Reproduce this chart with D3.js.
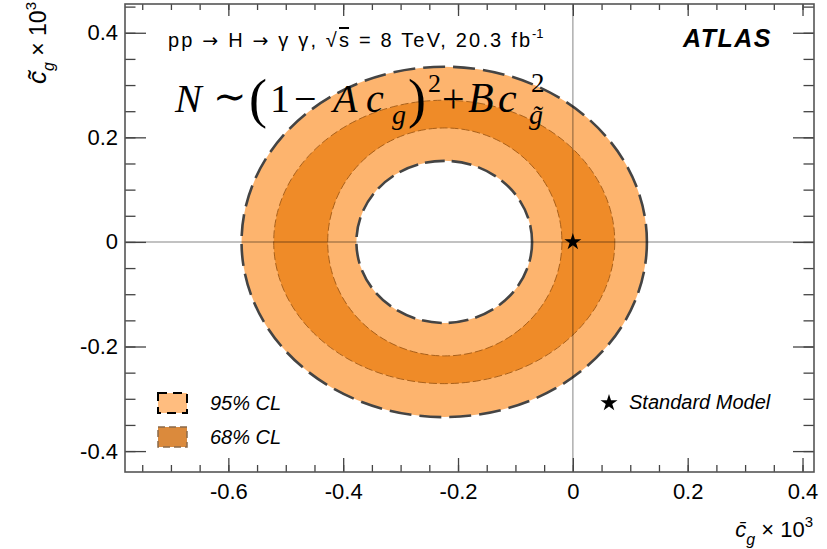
<!DOCTYPE html>
<html lang="en">
<head>
<meta charset="UTF-8" />
<title>ATLAS H to gamma gamma, CP-odd gluon coupling</title>
<script src="https://d3js.org/d3.v7.min.js"></script>
<style>
  body { margin: 0; background: #fff; }
  svg text { font-family: "Liberation Sans", Arial, sans-serif; fill: #000; }
</style>
</head>
<body>
<div id="chart"></div>
<script>
  // contour boundaries (ellipses), outer to inner, in units of 10^-3
  const contourNames = ["95% outer", "68% outer", "68% inner", "95% inner"]
  const contourCx = [-0.224, -0.224, -0.223, -0.224]
  const contourCy = [0, 0, 0, 0]
  const contourRx = [0.353, 0.297, 0.204, 0.153]
  const contourRy = [0.335, 0.271, 0.218, 0.155]
  const smPoint = [0, 0]
  const xTickValues = [-0.6, -0.4, -0.2, 0, 0.2, 0.4]
  const yTickValues = [-0.4, -0.2, 0, 0.2, 0.4]
  const legendLabels = ["95% CL", "68% CL"]

  const width = 827, height = 549
  const margin = { top: 4, right: 13, bottom: 77, left: 125 }

  const svg = d3.select("#chart").append("svg")
    .attr("width", width)
    .attr("height", height)

  const x = d3.scaleLinear().domain([-0.78, 0.42]).range([margin.left, width - margin.right])
  const y = d3.scaleLinear().domain([-0.44, 0.455]).range([height - margin.bottom, margin.top])

  const fills = ["#fdb46e", "#ef8b28", "#fdb46e", "#ffffff"]
  const strokes = ["#444", "#a9601a", "#a9601a", "#444"]
  const strokeW = [2.6, 1, 1, 2.6]
  const dashes = ["22,8", "8,3", "8,3", "20,7"]

  // rings
  svg.append("g").selectAll("ellipse")
    .data(contourNames)
    .enter()
    .append("ellipse")
    .attr("cx", (d, i) => x(contourCx[i]))
    .attr("cy", (d, i) => y(contourCy[i]))
    .attr("rx", (d, i) => x(contourRx[i]) - x(0))
    .attr("ry", (d, i) => y(0) - y(contourRy[i]))
    .attr("fill", (d, i) => fills[i])
    .attr("stroke", (d, i) => strokes[i])
    .attr("stroke-width", (d, i) => strokeW[i])
    .attr("stroke-dasharray", (d, i) => dashes[i])

  // reference lines through 0
  svg.append("line")
    .attr("x1", x(0)).attr("x2", x(0))
    .attr("y1", y.range()[0]).attr("y2", y.range()[1])
    .attr("stroke", "#000").attr("stroke-opacity", 0.32).attr("stroke-width", 1.5)
  svg.append("line")
    .attr("x1", x.range()[0]).attr("x2", x.range()[1])
    .attr("y1", y(0)).attr("y2", y(0))
    .attr("stroke", "#000").attr("stroke-opacity", 0.32).attr("stroke-width", 1.5)

  // SM point
  const star = d3.symbol(d3.symbolStar).size(90)
  svg.append("path")
    .attr("d", star())
    .attr("transform", `translate(${x(smPoint[0])},${y(smPoint[1])})`)
    .attr("fill", "#000")

  // axes, ticks pointing inwards on all four sides
  const fmt = (d) => String(d)
  const xMinor = x.ticks(24), yMinor = y.ticks(18)
  const plotBottom = height - margin.bottom, plotLeft = margin.left
  const plotTop = margin.top, plotRight = width - margin.right

  function styleAxis(g) {
    g.select(".domain").remove()
    g.selectAll("line").attr("stroke", "#444").attr("stroke-width", 1.3)
    g.selectAll("text").attr("font-size", 22).attr("fill", "#000")
  }

  svg.append("g").attr("transform", `translate(0,${plotBottom})`)
    .call(d3.axisBottom(x).tickValues(xMinor).tickSize(-7).tickFormat(""))
    .call(styleAxis)
  svg.append("g").attr("transform", `translate(0,${plotBottom})`)
    .call(d3.axisBottom(x).tickValues(xTickValues).tickSize(-14).tickPadding(11).tickFormat(fmt))
    .call(styleAxis)
  svg.append("g").attr("transform", `translate(0,${plotTop})`)
    .call(d3.axisTop(x).tickValues(xMinor).tickSize(-6).tickFormat(""))
    .call(styleAxis)
  svg.append("g").attr("transform", `translate(0,${plotTop})`)
    .call(d3.axisTop(x).tickValues(xTickValues).tickSize(-12).tickFormat(""))
    .call(styleAxis)
  svg.append("g").attr("transform", `translate(${plotLeft},0)`)
    .call(d3.axisLeft(y).tickValues(yMinor).tickSize(-10.5).tickFormat(""))
    .call(styleAxis)
  svg.append("g").attr("transform", `translate(${plotLeft},0)`)
    .call(d3.axisLeft(y).tickValues(yTickValues).tickSize(-21).tickPadding(7).tickFormat(fmt))
    .call(styleAxis)
  svg.append("g").attr("transform", `translate(${plotRight},0)`)
    .call(d3.axisRight(y).tickValues(yMinor).tickSize(-10.5).tickFormat(""))
    .call(styleAxis)
  svg.append("g").attr("transform", `translate(${plotRight},0)`)
    .call(d3.axisRight(y).tickValues(yTickValues).tickSize(-21).tickFormat(""))
    .call(styleAxis)

  // frame
  svg.append("rect")
    .attr("x", plotLeft).attr("y", plotTop)
    .attr("width", plotRight - plotLeft).attr("height", plotBottom - plotTop)
    .attr("fill", "none").attr("stroke", "#555").attr("stroke-width", 1.6)

  // axis titles
  const xt = svg.append("text")
    .attr("x", plotRight - 1).attr("y", 537)
    .attr("text-anchor", "end").attr("font-size", 22)
  xt.append("tspan").attr("font-style", "italic").text("c\u0304")
  xt.append("tspan").attr("font-style", "italic").attr("font-size", 16).attr("dy", 8).text("g")
  xt.append("tspan").attr("dy", -8).text(" \u00d7 10")
  xt.append("tspan").attr("font-size", 15).attr("dy", -10).text("3")

  const yt = svg.append("text")
    .attr("transform", "translate(46,2) rotate(-90)")
    .attr("text-anchor", "end").attr("font-size", 23)
  yt.append("tspan").attr("font-style", "italic").attr("font-size", 26).text("c\u0303")
  yt.append("tspan").attr("font-style", "italic").attr("font-size", 16).attr("dy", 8).text("g")
  yt.append("tspan").attr("dy", -8).text(" \u00d7 10")
  yt.append("tspan").attr("font-size", 15).attr("dy", -10).text("3")

  // header
  const hd = svg.append("text").attr("x", 168).attr("y", 47).attr("font-size", 20)
    .attr("textLength", 362).attr("lengthAdjust", "spacing")
  const arrow = (t) => t.append("tspan").style("font-family", '"DejaVu Sans", sans-serif').attr("font-size", 19).text("\u2192")
  hd.append("tspan").text("pp ")
  arrow(hd)
  hd.append("tspan").text(" H ")
  arrow(hd)
  hd.append("tspan").text(" \u03b3  \u03b3, \u221a")
  hd.append("tspan").style("text-decoration", "overline").text("s")
  hd.append("tspan").text(" = 8 TeV, 20.3 fb")
  svg.append("text").attr("x", 532).attr("y", 38).attr("font-size", 13).text("-1")

  svg.append("text")
    .attr("x", 683).attr("y", 47)
    .attr("font-size", 25).attr("font-weight", "bold").attr("font-style", "italic")
    .attr("letter-spacing", 1.5)
    .text("ATLAS")

  // formula N ~ (1 - A c_g)^2 + B c_g~^2
  const formula = [
    ["N", 175, 112, 40, true], ["\u223c", 213, 110, 40, false], ["(", 249, 117, 54, false],
    ["1", 270, 112, 40, false], ["\u2212", 294, 112, 40, false], ["A", 333, 112, 40, true],
    ["c", 366, 112, 40, true], ["g", 392, 124, 28, true], [")", 408, 117, 54, false],
    ["2", 428, 92, 26, false], ["+", 442, 112, 40, false], ["B", 468, 112, 42, true],
    ["c", 498, 112, 42, true], ["2", 531, 92, 27, false], ["g\u0303", 529, 124, 28, true]
  ]
  svg.append("g").selectAll("text")
    .data(formula)
    .enter()
    .append("text")
    .attr("x", (d) => d[1]).attr("y", (d) => d[2])
    .attr("font-size", (d) => d[3])
    .attr("font-style", (d) => (d[4] ? "italic" : "normal"))
    .style("font-family", '"Liberation Serif", "DejaVu Serif", serif')
    .text((d) => d[0])

  // legend
  const lg = svg.append("g")
  lg.append("rect").attr("x", 158).attr("y", 393).attr("width", 29).attr("height", 20)
    .attr("fill", "#ffbd7f").attr("stroke", "#000").attr("stroke-width", 2).attr("stroke-dasharray", "9,6")
  lg.append("rect").attr("x", 158).attr("y", 427).attr("width", 29).attr("height", 20)
    .attr("fill", "#db8a3c").attr("stroke", "#8b6a4a").attr("stroke-width", 1.5).attr("stroke-dasharray", "7,4")
  lg.selectAll("text.cl")
    .data(legendLabels)
    .enter()
    .append("text")
    .attr("class", "cl")
    .attr("x", 210).attr("y", (d, i) => 410 + i * 34)
    .attr("font-size", 20).attr("font-style", "italic").attr("fill", "#222")
    .text((d) => d)

  lg.append("path").attr("d", star()).attr("transform", "translate(609,403)").attr("fill", "#000")
  lg.append("text").attr("x", 629).attr("y", 409)
    .attr("font-size", 20).attr("font-style", "italic").attr("fill", "#222")
    .text("Standard Model")
</script>
</body>
</html>
